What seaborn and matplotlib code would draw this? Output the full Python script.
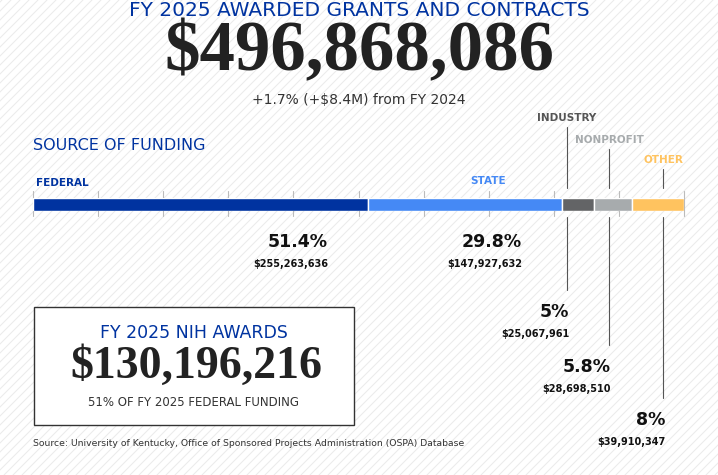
import numpy as np
import matplotlib.pyplot as plt
import seaborn as sns
from matplotlib import font_manager

sns.set_theme(style="white")

# dados
categorias = ["FEDERAL", "STATE", "INDUSTRY", "NONPROFIT", "OTHER"]
percentuais = [51.4, 29.8, 5.0, 5.8, 8.0]
valores = ["$255,263,636", "$147,927,632", "$25,067,961", "$28,698,510", "$39,910,347"]
cores = ["#0033a0", "#4589f5", "#636466", "#a7abad", "#ffc35f"]
cor_rotulo = ["#0033a0", "#4589f5", "#555555", "#a7abad", "#ffc35f"]

nomes = {f.name for f in font_manager.fontManager.ttflist}
narrow = "Liberation Sans Narrow" if "Liberation Sans Narrow" in nomes else "DejaVu Sans"

fig = plt.figure(figsize=(7.18, 4.75), dpi=100)
bg = fig.add_axes([0, 0, 1, 1])
bg.set_xlim(0, 718)
bg.set_ylim(475, 0)
bg.axis("off")

# fundo listrado
for x0 in np.arange(-500, 718, 9):
    bg.plot([x0, x0 + 475], [475, 0], color="#ececec", lw=0.8, zorder=0)

bg.text(359, 10, "FY 2025 AWARDED GRANTS AND CONTRACTS", ha="center", va="center",
        color="#0033a0", fontsize=14.5, family="DejaVu Sans")
bg.text(359, 53, "$496,868,086", ha="center", va="center", color="#222222",
        fontsize=51, family="Liberation Serif", fontweight="bold")
bg.text(359, 100, "+1.7% (+$8.4M) from FY 2024", ha="center", va="center",
        color="#333333", fontsize=10)
bg.text(33, 145, "SOURCE OF FUNDING", ha="left", va="center", color="#0033a0",
        fontsize=11.5)

# barra empilhada
ax = fig.add_axes([33 / 718, 1 - 211 / 475, 651 / 718, 13 / 475])
esquerda = np.concatenate([[0], np.cumsum(percentuais)[:-1]])
ax.barh([0] * 5, percentuais, left=esquerda, color=cores, height=1)
ax.set_xlim(0, 100)
ax.set_ylim(-0.5, 0.5)
ax.axis("off")

for t in range(11):
    px = 33 + 651 * t / 10
    bg.plot([px, px], [191, 216], color="#bbbbbb", lw=0.8, zorder=1)

pct_kw = dict(fontsize=12.5, fontweight="bold", family=narrow, color="#111111")
val_kw = dict(fontsize=7, fontweight="bold", family=narrow, color="#111111")

# rótulos superiores
bg.text(36, 183, categorias[0], color=cor_rotulo[0], fontsize=7.5, fontweight="bold",
        family=narrow, va="center")
bg.text(488, 181, categorias[1], color=cor_rotulo[1], fontsize=7.5, fontweight="bold",
        family=narrow, va="center", ha="center")
linhas = [567, 609, 663]
topo = [118, 140, 160]
fundo = [290, 345, 398]
for i, (lx, ty, by) in enumerate(zip(linhas, topo, fundo)):
    k = i + 2
    bg.text(lx, ty, categorias[k], color=cor_rotulo[k], fontsize=7.5, fontweight="bold",
            family=narrow, va="center", ha="center")
    bg.plot([lx, lx], [ty + 9, 188], color="#555555", lw=0.8)
    bg.plot([lx, lx], [217, by], color="#555555", lw=0.8)
    bg.text(lx + 2, by + 22, f"{percentuais[k]:g}%", ha="right", va="center", **pct_kw)
    bg.text(lx + 2, by + 44, valores[k], ha="right", va="center", **val_kw)

for k, xr in [(0, 328), (1, 522)]:
    bg.text(xr, 242, f"{percentuais[k]}%", ha="right", va="center", **pct_kw)
    bg.text(xr, 264, valores[k], ha="right", va="center", **val_kw)

# caixa NIH
bg.add_patch(plt.Rectangle((34, 307), 320, 118, fill=True, facecolor="white",
                           edgecolor="#333333", lw=1, zorder=2))
bg.text(194, 333, "FY 2025 NIH AWARDS", ha="center", va="center", color="#0033a0",
        fontsize=12.5, zorder=3)
bg.text(196, 367, "$130,196,216", ha="center", va="center", color="#222222",
        fontsize=33, family="Liberation Serif", fontweight="bold", zorder=3)
bg.text(194, 403, "51% OF FY 2025 FEDERAL FUNDING", ha="center", va="center",
        color="#333333", fontsize=8.5, zorder=3)

bg.text(33, 444, "Source: University of Kentucky, Office of Sponsored Projects Administration (OSPA) Database",
        ha="left", va="center", fontsize=6.7, color="#333333", family=narrow)

fig.savefig("out.png", dpi=100, facecolor="white")
